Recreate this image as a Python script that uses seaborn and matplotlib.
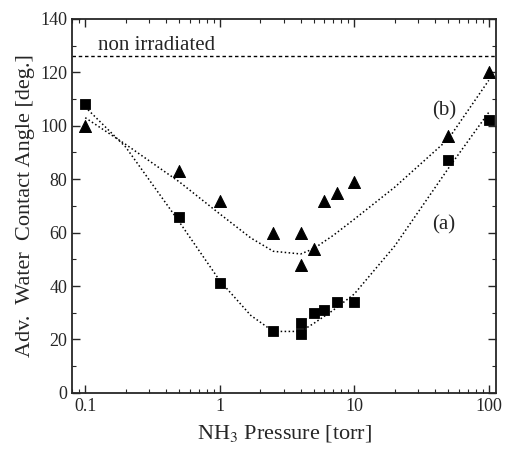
import matplotlib
matplotlib.use("Agg")
import matplotlib.pyplot as plt
import seaborn as sns
import numpy as np
import pandas as pd
from matplotlib.ticker import LogLocator, MultipleLocator, NullFormatter, FixedLocator, FixedFormatter

# measured points
p_a = [0.1, 0.5, 1, 2.5, 4, 4, 5, 6, 7.5, 10, 50, 100]
ang_a = [108, 66, 41, 23, 22, 26, 30, 31, 34, 34, 87, 102]
p_b = [0.1, 0.5, 1, 2.5, 4, 4, 5, 6, 7.5, 10, 50, 100]
ang_b = [100, 83, 72, 60, 60, 48, 54, 72, 75, 79, 96, 120]

# guide curves
fit_pa = [0.1, 0.2, 0.5, 1, 1.7, 2.5, 4, 5, 7, 10, 20, 50, 100]
fit_a = [107, 92, 64, 42, 29, 23, 23, 26, 31, 37, 55, 84, 105]
fit_pb = [0.1, 0.2, 0.5, 1, 1.7, 2.5, 4, 5, 7, 10, 20, 50, 100]
fit_b = [103, 93, 79, 67, 58, 53, 52, 54, 59, 65, 77, 95, 117]

non_irr = 126

df_a = pd.DataFrame({"p": p_a, "ang": ang_a})
df_b = pd.DataFrame({"p": p_b, "ang": ang_b})

sns.set_style("ticks")
plt.rcParams['font.family'] = ['Liberation Serif', 'DejaVu Serif']
plt.rcParams['mathtext.fontset'] = 'stix'

fig, ax = plt.subplots(figsize=(5.05, 4.49), dpi=100)
fig.subplots_adjust(left=0.143, right=0.982, top=0.958, bottom=0.125)

dot = dict(color='black', lw=1.1, ls=(0, (1, 1.6)))
sns.lineplot(x=fit_pa, y=fit_a, ax=ax, **dot)
sns.lineplot(x=fit_pb, y=fit_b, ax=ax, **dot)
ax.axhline(non_irr, color='black', lw=1.0, ls=(0, (2.5, 2)))

sns.scatterplot(data=df_a, x="p", y="ang", ax=ax, marker='s', s=55, color='black', edgecolor='black')
sns.scatterplot(data=df_b, x="p", y="ang", ax=ax, marker='^', s=75, color='black', edgecolor='black')

ax.set_xscale('log')
ax.set_xlim(0.08, 113)
ax.set_ylim(0, 140)

ax.xaxis.set_major_locator(FixedLocator([0.1, 1, 10, 100]))
ax.xaxis.set_major_formatter(FixedFormatter(['0.1', '1', '10', '100']))
ax.xaxis.set_minor_locator(LogLocator(base=10, subs=np.arange(2, 10)))
ax.xaxis.set_minor_formatter(NullFormatter())
ax.yaxis.set_major_locator(MultipleLocator(20))
ax.yaxis.set_minor_locator(MultipleLocator(10))

ax.tick_params(which='both', direction='in', top=True, right=True, labelsize=13)
ax.tick_params(which='major', length=6, width=1)
ax.tick_params(which='minor', length=3, width=0.8)
for s in ax.spines.values():
    s.set_linewidth(1.3)

ax.set_xlabel('NH$_3$ Pressure [torr]', fontsize=16, labelpad=6)
ax.set_ylabel('Adv.  Water  Contact Angle [deg.]', fontsize=16, labelpad=4)

ax.text(0.125, 128.5, 'non irradiated', fontsize=15)
ax.text(38, 104, '(b)', fontsize=15)
ax.text(38, 61, '(a)', fontsize=15)

fig.savefig('out.png', dpi=100)
